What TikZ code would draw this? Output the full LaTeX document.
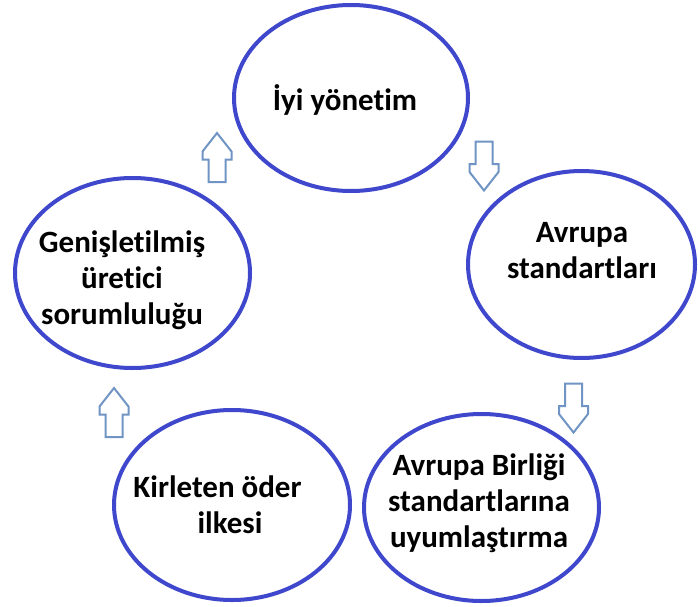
\documentclass[tikz,border=0pt]{standalone}
\usepackage{fontspec}
\setmainfont{Carlito}[Ligatures={NoCommon}]
\usetikzlibrary{shapes.geometric}
\definecolor{ringblue}{RGB}{63,72,204}
\definecolor{arrowblue}{RGB}{112,148,196}
\tikzset{
  ring/.style={draw=ringblue, line width=4pt, ellipse, inner sep=0pt},
  lbl/.style={font=\fontsize{31}{36}\selectfont\bfseries, align=center, text=black, inner sep=0pt},
  blockarrow/.pic={
    \draw[draw=arrowblue, line width=2pt, fill=white]
      (-8.5,24.5) -- (-8.5,2) -- (-14.5,2) -- (-14.5,-6) -- (0,-24.5)
      -- (14.5,-6) -- (14.5,2) -- (8.5,2) -- (8.5,24.5) -- cycle;
  }
}
\begin{document}
\begin{tikzpicture}[x=1pt,y=-1pt]
\useasboundingbox (0,0) rectangle (698,607);
\fill[white] (0,0) rectangle (698,607);

% ellipses
\node[ring, minimum width=234pt, minimum height=186pt] (e1) at (351,98) {};
\node[ring, minimum width=227pt, minimum height=187pt] (e2) at (581.5,264.5) {};
\node[ring, minimum width=235pt, minimum height=187pt] (e3) at (481.5,507.5) {};
\node[ring, minimum width=236pt, minimum height=190pt] (e4) at (232,505) {};
\node[ring, minimum width=235pt, minimum height=190pt] (e5) at (132.5,273) {};

% labels
\node[lbl] (t1) at (345,100) {İyi yönetim};
\node[lbl] (t2) at (582,251) {Avrupa\\standartları};
\node[lbl] (t3) at (479,503) {Avrupa Birliği\\standartlarına\\uyumlaştırma};
\node[lbl] (t4) at (217.5,505) {Kirleten öder\\\hspace*{25pt}ilkesi};
\node[lbl] (t5) at (122,280) {Genişletilmiş\\üretici\\sorumluluğu};

% block arrows
\pic at (217,157.5) {blockarrow};
\pic[rotate=180] at (484,166) {blockarrow};
\pic[rotate=180] at (573.5,408) {blockarrow};
\pic at (114,412.5) {blockarrow};
\end{tikzpicture}
\end{document}
